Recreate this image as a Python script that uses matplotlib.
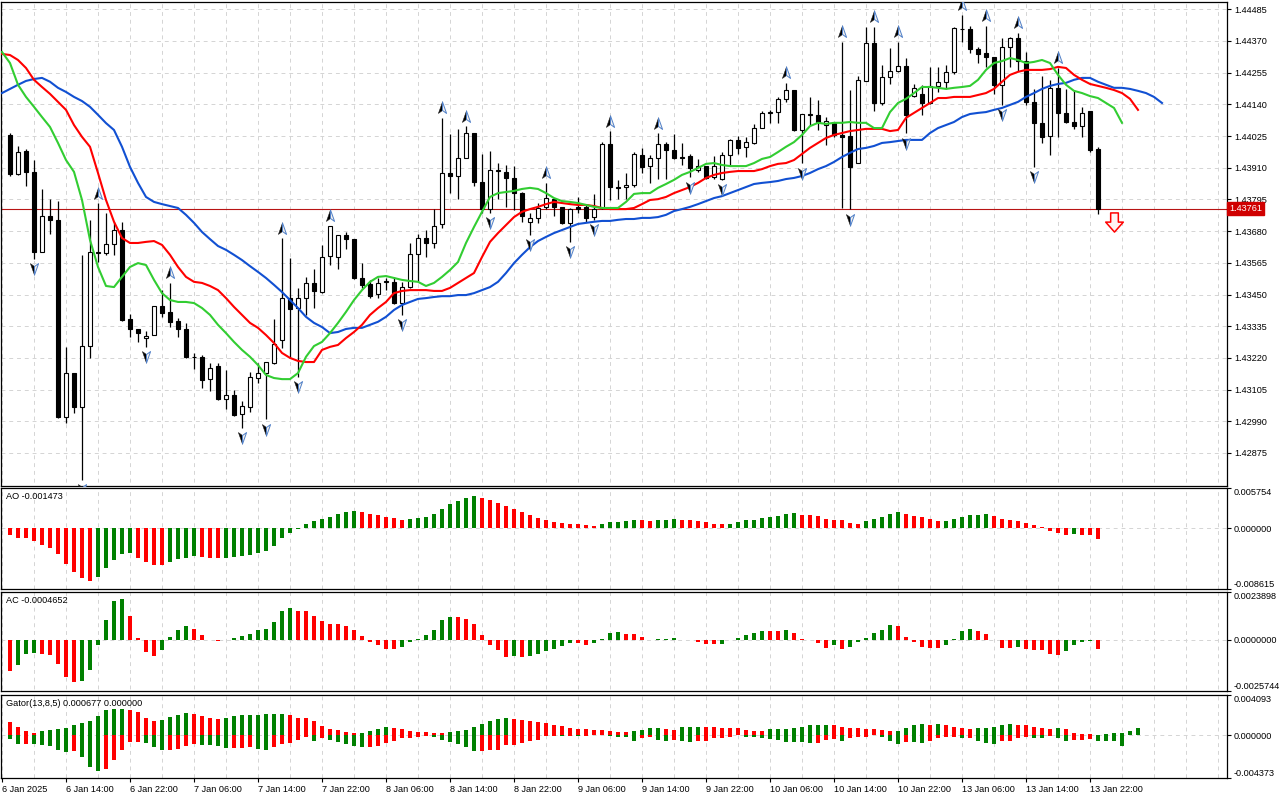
import numpy as np
import matplotlib.pyplot as plt
from matplotlib.path import Path
from matplotlib.transforms import offset_copy, blended_transform_factory

plt.rcParams['font.family'] = ['Liberation Sans', 'DejaVu Sans']

# H1 bars, bar 0 = 6 Jan 07:00, last bar = 13 Jan 23:00
opens = [1.44029, 1.43887, 1.43971, 1.43895, 1.43605, 1.43735, 1.43721, 1.43006, 1.43165, 1.43042,
         1.43263, 1.43601, 1.43601, 1.43633, 1.43684, 1.43361, 1.43325, 1.43292, 1.43303, 1.43408,
         1.43387, 1.43354, 1.43325, 1.43222, 1.43224, 1.43143, 1.43190, 1.43070, 1.43085, 1.43016,
         1.43042, 1.43147, 1.43165, 1.43201, 1.43285, 1.43437, 1.43401, 1.43437, 1.43492, 1.43459,
         1.43590, 1.43587, 1.43666, 1.43651, 1.43510, 1.43488, 1.43451, 1.43496, 1.43496, 1.43419,
         1.43478, 1.43597, 1.43655, 1.43637, 1.43706, 1.43891, 1.43880, 1.43946, 1.44036, 1.43859,
         1.43760, 1.43898, 1.43895, 1.43873, 1.43818, 1.43714, 1.43728, 1.43768, 1.43796, 1.43768,
         1.43710, 1.43768, 1.43768, 1.43731, 1.43764, 1.43996, 1.43840, 1.43840, 1.43847, 1.43957,
         1.43916, 1.43946, 1.43996, 1.43975, 1.43949, 1.43953, 1.43902, 1.43916, 1.43876, 1.43869,
         1.43957, 1.44011, 1.43986, 1.44000, 1.44054, 1.44109, 1.44112, 1.44160, 1.44192, 1.44047,
         1.44102, 1.44102, 1.44065, 1.44073, 1.44029, 1.44025, 1.43927, 1.44225, 1.44363, 1.44145,
         1.44239, 1.44261, 1.44279, 1.44170, 1.44178, 1.44145, 1.44207, 1.44221, 1.44258, 1.44414,
         1.44414, 1.44341, 1.44327, 1.44312, 1.44210, 1.44348, 1.44381, 1.44298, 1.44149, 1.44073,
         1.44025, 1.44200, 1.44109, 1.44076, 1.44062, 1.44116, 1.43978]
highs = [1.44036, 1.43989, 1.43978, 1.43938, 1.43833, 1.43796, 1.43789, 1.43260, 1.43165, 1.43594,
         1.43721, 1.43782, 1.43746, 1.43714, 1.43714, 1.43379, 1.43325, 1.43317, 1.43408, 1.43466,
         1.43492, 1.43365, 1.43347, 1.43238, 1.43231, 1.43201, 1.43201, 1.43176, 1.43103, 1.43063,
         1.43169, 1.43201, 1.43205, 1.43361, 1.43655, 1.43583, 1.43474, 1.43514, 1.43542, 1.43630,
         1.43699, 1.43666, 1.43677, 1.43651, 1.43564, 1.43503, 1.43510, 1.43510, 1.43514, 1.43496,
         1.43637, 1.43669, 1.43684, 1.43760, 1.44091, 1.44032, 1.44050, 1.44061, 1.44036, 1.43960,
         1.43971, 1.43927, 1.43920, 1.43916, 1.43822, 1.43746, 1.43782, 1.43855, 1.43800, 1.43768,
         1.43764, 1.43804, 1.43778, 1.43815, 1.44003, 1.44043, 1.43866, 1.43891, 1.43968, 1.43982,
         1.43957, 1.44036, 1.44003, 1.44032, 1.44000, 1.43960, 1.43942, 1.43916, 1.43953, 1.43968,
         1.44014, 1.44025, 1.44022, 1.44069, 1.44116, 1.44120, 1.44167, 1.44218, 1.44192, 1.44105,
         1.44167, 1.44156, 1.44094, 1.44076, 1.44367, 1.44192, 1.44243, 1.44421, 1.44421, 1.44283,
         1.44345, 1.44367, 1.44308, 1.44214, 1.44210, 1.44276, 1.44276, 1.44283, 1.44421, 1.44465,
         1.44425, 1.44348, 1.44425, 1.44312, 1.44381, 1.44385, 1.44399, 1.44330, 1.44196, 1.44243,
         1.44229, 1.44272, 1.44196, 1.44192, 1.44131, 1.44116, 1.43985]
lows = [1.43880, 1.43884, 1.43844, 1.43579, 1.43605, 1.43669, 1.43002, 1.42984, 1.43020, 1.42777,
        1.43220, 1.43568, 1.43594, 1.43594, 1.43354, 1.43296, 1.43278, 1.43260, 1.43303, 1.43369,
        1.43333, 1.43296, 1.43218, 1.43179, 1.43111, 1.43099, 1.43067, 1.43034, 1.43009, 1.42966,
        1.43024, 1.43129, 1.42998, 1.43197, 1.43256, 1.43220, 1.43151, 1.43376, 1.43401, 1.43455,
        1.43557, 1.43542, 1.43615, 1.43506, 1.43474, 1.43437, 1.43437, 1.43466, 1.43415, 1.43376,
        1.43474, 1.43496, 1.43587, 1.43619, 1.43692, 1.43818, 1.43796, 1.43946, 1.43844, 1.43746,
        1.43746, 1.43796, 1.43768, 1.43757, 1.43714, 1.43666, 1.43710, 1.43760, 1.43735, 1.43706,
        1.43641, 1.43746, 1.43714, 1.43721, 1.43760, 1.43793, 1.43796, 1.43796, 1.43840, 1.43891,
        1.43855, 1.43869, 1.43869, 1.43942, 1.43920, 1.43876, 1.43895, 1.43869, 1.43869, 1.43866,
        1.43920, 1.43960, 1.43949, 1.43996, 1.44054, 1.44073, 1.44073, 1.44149, 1.44043, 1.43927,
        1.44065, 1.44047, 1.43993, 1.44022, 1.43764, 1.43760, 1.43927, 1.44225, 1.44116, 1.44138,
        1.44214, 1.44258, 1.44036, 1.44167, 1.44102, 1.44141, 1.44185, 1.44196, 1.44250, 1.44367,
        1.44327, 1.44290, 1.44276, 1.44178, 1.44138, 1.44276, 1.44261, 1.44138, 1.43913, 1.44000,
        1.43957, 1.44022, 1.44073, 1.44051, 1.44022, 1.43967, 1.43742]
closes = [1.43887, 1.43968, 1.43895, 1.43605, 1.43735, 1.43721, 1.43005, 1.43165, 1.43042, 1.43263,
          1.43605, 1.43605, 1.43633, 1.43684, 1.43358, 1.43325, 1.43310, 1.43299, 1.43408, 1.43383,
          1.43351, 1.43325, 1.43222, 1.43225, 1.43140, 1.43183, 1.43070, 1.43085, 1.43013, 1.43045,
          1.43151, 1.43165, 1.43205, 1.43270, 1.43437, 1.43397, 1.43437, 1.43492, 1.43462, 1.43587,
          1.43699, 1.43666, 1.43651, 1.43510, 1.43485, 1.43444, 1.43492, 1.43499, 1.43419, 1.43478,
          1.43597, 1.43655, 1.43637, 1.43699, 1.43891, 1.43880, 1.43946, 1.44036, 1.43859, 1.43760,
          1.43902, 1.43902, 1.43873, 1.43818, 1.43735, 1.43728, 1.43764, 1.43800, 1.43768, 1.43710,
          1.43760, 1.43760, 1.43728, 1.43760, 1.43996, 1.43840, 1.43837, 1.43847, 1.43960, 1.43913,
          1.43946, 1.43996, 1.43975, 1.43946, 1.43946, 1.43909, 1.43916, 1.43873, 1.43916, 1.43957,
          1.44011, 1.43982, 1.44003, 1.44054, 1.44109, 1.44112, 1.44160, 1.44192, 1.44047, 1.44105,
          1.44105, 1.44076, 1.44080, 1.44029, 1.44022, 1.43913, 1.44229, 1.44363, 1.44145, 1.44239,
          1.44261, 1.44279, 1.44102, 1.44200, 1.44145, 1.44207, 1.44221, 1.44258, 1.44417, 1.44412,
          1.44341, 1.44323, 1.44312, 1.44210, 1.44348, 1.44381, 1.44298, 1.44149, 1.44073, 1.44022,
          1.44200, 1.44109, 1.44076, 1.44062, 1.44109, 1.43975, 1.43761]

# Alligator lines, first value belongs to bar -1 (jaw +8, teeth +5, lips +3 bars ahead)
jaw = [1.44181, 1.44196, 1.44211, 1.44225, 1.44232, 1.44236, 1.44222, 1.44200, 1.44185, 1.44167,
       1.44152, 1.44131, 1.44102, 1.44072, 1.44047, 1.43986, 1.43913, 1.43855, 1.43804, 1.43786,
       1.43778, 1.43771, 1.43764, 1.43739, 1.43710, 1.43677, 1.43651, 1.43626, 1.43612, 1.43594,
       1.43575, 1.43553, 1.43532, 1.43510, 1.43485, 1.43459, 1.43430, 1.43401, 1.43369, 1.43347,
       1.43332, 1.43310, 1.43314, 1.43325, 1.43329, 1.43329, 1.43340, 1.43351, 1.43369, 1.43394,
       1.43412, 1.43423, 1.43434, 1.43437, 1.43441, 1.43444, 1.43444, 1.43448, 1.43448, 1.43455,
       1.43466, 1.43477, 1.43496, 1.43528, 1.43564, 1.43594, 1.43622, 1.43644, 1.43659, 1.43673,
       1.43684, 1.43695, 1.43706, 1.43710, 1.43714, 1.43717, 1.43717, 1.43721, 1.43724, 1.43724,
       1.43728, 1.43728, 1.43731, 1.43739, 1.43753, 1.43760, 1.43768, 1.43778, 1.43789, 1.43800,
       1.43807, 1.43818, 1.43829, 1.43840, 1.43851, 1.43855, 1.43858, 1.43862, 1.43869, 1.43873,
       1.43880, 1.43891, 1.43905, 1.43916, 1.43931, 1.43949, 1.43964, 1.43978, 1.43982, 1.43989,
       1.44000, 1.44003, 1.44007, 1.44011, 1.44011, 1.44011, 1.44036, 1.44054, 1.44065, 1.44076,
       1.44094, 1.44105, 1.44109, 1.44112, 1.44120, 1.44127, 1.44138, 1.44149, 1.44167, 1.44181,
       1.44196, 1.44207, 1.44214, 1.44218, 1.44229, 1.44236, 1.44236, 1.44222, 1.44211, 1.44200,
       1.44200, 1.44196, 1.44189, 1.44181, 1.44167, 1.44145]
teeth = [1.44323, 1.44319, 1.44301, 1.44272, 1.44229, 1.44203, 1.44178, 1.44149, 1.44120, 1.44065,
         1.44022, 1.43986, 1.43891, 1.43793, 1.43714, 1.43655, 1.43637, 1.43637, 1.43641, 1.43644,
         1.43630, 1.43594, 1.43550, 1.43514, 1.43496, 1.43492, 1.43481, 1.43466, 1.43437, 1.43405,
         1.43376, 1.43347, 1.43329, 1.43303, 1.43274, 1.43238, 1.43220, 1.43209, 1.43205, 1.43205,
         1.43249, 1.43260, 1.43267, 1.43292, 1.43314, 1.43340, 1.43376, 1.43401, 1.43423, 1.43455,
         1.43463, 1.43466, 1.43466, 1.43466, 1.43463, 1.43463, 1.43474, 1.43492, 1.43510, 1.43528,
         1.43586, 1.43641, 1.43673, 1.43702, 1.43731, 1.43750, 1.43760, 1.43768, 1.43778, 1.43786,
         1.43782, 1.43778, 1.43775, 1.43775, 1.43771, 1.43764, 1.43760, 1.43760, 1.43760, 1.43764,
         1.43778, 1.43793, 1.43796, 1.43804, 1.43818, 1.43829, 1.43840, 1.43855, 1.43873, 1.43884,
         1.43891, 1.43895, 1.43898, 1.43898, 1.43898, 1.43905, 1.43916, 1.43924, 1.43927, 1.43938,
         1.43960, 1.43982, 1.44000, 1.44018, 1.44029, 1.44036, 1.44043, 1.44047, 1.44051, 1.44051,
         1.44051, 1.44043, 1.44047, 1.44091, 1.44109, 1.44127, 1.44145, 1.44163, 1.44163, 1.44167,
         1.44167, 1.44167, 1.44174, 1.44181, 1.44196, 1.44222, 1.44247, 1.44258, 1.44265, 1.44265,
         1.44265, 1.44268, 1.44276, 1.44272, 1.44247, 1.44229, 1.44214, 1.44207, 1.44200, 1.44192,
         1.44181, 1.44160, 1.44120]
lips = [1.44330, 1.44290, 1.44211, 1.44167, 1.44131, 1.44094, 1.44058, 1.44000, 1.43938, 1.43895,
        1.43793, 1.43648, 1.43550, 1.43481, 1.43477, 1.43514, 1.43550, 1.43564, 1.43557, 1.43503,
        1.43455, 1.43430, 1.43423, 1.43423, 1.43419, 1.43401, 1.43376, 1.43340, 1.43310, 1.43278,
        1.43249, 1.43224, 1.43194, 1.43158, 1.43147, 1.43143, 1.43143, 1.43165, 1.43224, 1.43263,
        1.43278, 1.43310, 1.43347, 1.43387, 1.43430, 1.43466, 1.43496, 1.43514, 1.43517, 1.43510,
        1.43503, 1.43499, 1.43496, 1.43481, 1.43492, 1.43514, 1.43539, 1.43568, 1.43637, 1.43695,
        1.43750, 1.43804, 1.43818, 1.43822, 1.43826, 1.43833, 1.43837, 1.43833, 1.43818, 1.43800,
        1.43789, 1.43786, 1.43782, 1.43775, 1.43768, 1.43764, 1.43764, 1.43764, 1.43786, 1.43815,
        1.43818, 1.43818, 1.43837, 1.43851, 1.43866, 1.43884, 1.43895, 1.43909, 1.43924, 1.43927,
        1.43920, 1.43916, 1.43916, 1.43916, 1.43927, 1.43942, 1.43949, 1.43967, 1.43986, 1.44003,
        1.44029, 1.44061, 1.44073, 1.44069, 1.44073, 1.44073, 1.44076, 1.44073, 1.44073, 1.44054,
        1.44054, 1.44112, 1.44145, 1.44160, 1.44181, 1.44203, 1.44203, 1.44200, 1.44196, 1.44200,
        1.44203, 1.44207, 1.44229, 1.44265, 1.44290, 1.44297, 1.44308, 1.44301, 1.44290, 1.44294,
        1.44301, 1.44290, 1.44247, 1.44211, 1.44189, 1.44181, 1.44170, 1.44163, 1.44145, 1.44127,
        1.44073]

fractal_up = [11, 20, 34, 40, 54, 57, 67, 75, 81, 97, 104, 108, 111, 119, 122, 126, 131]
fractal_dn = [3, 9, 17, 29, 32, 36, 49, 60, 65, 70, 73, 85, 89, 99, 105, 112, 124, 128]
sell_signal_bar = 138

ao = [-0.00095, -0.00133, -0.00142, -0.00175, -0.00237, -0.00275, -0.00365, -0.00507, -0.00616, -0.00702,
      -0.00744, -0.00687, -0.00559, -0.00446, -0.00365, -0.00356, -0.00417, -0.00474, -0.00521, -0.00523,
      -0.00474, -0.00436, -0.00417, -0.00393, -0.00403, -0.00417, -0.00418, -0.00415, -0.00403, -0.00393,
      -0.00379, -0.00346, -0.00322, -0.00251, -0.00142, -0.00062, -0.00014, 0.00057, 0.00104, 0.00133,
      0.00161, 0.00204, 0.00232, 0.00246, 0.00232, 0.00199, 0.00190, 0.00161, 0.00142, 0.00123,
      0.00137, 0.00147, 0.00161, 0.00204, 0.00275, 0.00346, 0.00389, 0.00431, 0.00460, 0.00431,
      0.00403, 0.00360, 0.00318, 0.00275, 0.00237, 0.00190, 0.00147, 0.00119, 0.00090, 0.00076,
      0.00062, 0.00060, 0.00047, 0.00033, 0.00062, 0.00090, 0.00095, 0.00104, 0.00119, 0.00117,
      0.00104, 0.00114, 0.00118, 0.00133, 0.00119, 0.00116, 0.00104, 0.00090, 0.00062, 0.00057,
      0.00066, 0.00090, 0.00117, 0.00120, 0.00147, 0.00161, 0.00175, 0.00204, 0.00218, 0.00190,
      0.00188, 0.00175, 0.00133, 0.00119, 0.00117, 0.00076, 0.00062, 0.00104, 0.00133, 0.00161,
      0.00204, 0.00232, 0.00204, 0.00175, 0.00161, 0.00133, 0.00104, 0.00107, 0.00133, 0.00161,
      0.00190, 0.00192, 0.00204, 0.00175, 0.00133, 0.00119, 0.00104, 0.00076, 0.00047, 0.00014,
      -0.00033, -0.00062, -0.00095, -0.00081, -0.00095, -0.00097, -0.001473]
ac = [-0.00159, -0.00129, -0.00074, -0.00065, -0.00074, -0.00075, -0.00124, -0.00187, -0.00214, -0.00209,
      -0.00154, -0.00028, 0.00100, 0.00192, 0.00202, 0.00120, 0.00010, -0.00063, -0.00084, -0.00053,
      0.00012, 0.00050, 0.00070, 0.00055, 0.00025, -0.00003, -0.00007, -0.00001, 0.00010, 0.00017,
      0.00030, 0.00047, 0.00052, 0.00087, 0.00142, 0.00160, 0.00145, 0.00144, 0.00120, 0.00092,
      0.00080, 0.00079, 0.00067, 0.00050, 0.00020, -0.00012, -0.00028, -0.00045, -0.00046, -0.00037,
      -0.00012, 0.00003, 0.00025, 0.00050, 0.00100, 0.00115, 0.00114, 0.00105, 0.00080, 0.00025,
      -0.00025, -0.00050, -0.00087, -0.00082, -0.00085, -0.00083, -0.00070, -0.00058, -0.00045, -0.00033,
      -0.00017, -0.00018, -0.00025, -0.00017, 0.00003, 0.00035, 0.00036, 0.00030, 0.00029, 0.00013,
      -0.00001, 0.00003, 0.00004, 0.00008, 0.00000, -0.00003, -0.00012, -0.00023, -0.00024, -0.00022,
      -0.00003, 0.00008, 0.00025, 0.00035, 0.00045, 0.00044, 0.00043, 0.00050, 0.00035, 0.00005,
      -0.00003, -0.00017, -0.00040, -0.00028, -0.00045, -0.00037, -0.00010, 0.00010, 0.00035, 0.00050,
      0.00075, 0.00070, 0.00015, -0.00013, -0.00037, -0.00043, -0.00044, -0.00025, 0.00003, 0.00042,
      0.00052, 0.00042, 0.00030, -0.00001, -0.00040, -0.00041, -0.00039, -0.00045, -0.00053, -0.00054,
      -0.00074, -0.00075, -0.00058, -0.00025, -0.00013, -0.00005, -0.0004652]
gator_up = [0.00130, 0.00086, 0.00038, 0.00017, 0.00038, 0.00048, 0.00058, 0.00069, 0.00099, 0.00120,
            0.00141, 0.00192, 0.00261, 0.00264, 0.00268, 0.00261, 0.00233, 0.00172, 0.00141, 0.00151,
            0.00182, 0.00206, 0.00223, 0.00213, 0.00196, 0.00172, 0.00168, 0.00175, 0.00196, 0.00202,
            0.00206, 0.00209, 0.00213, 0.00216, 0.00220, 0.00202, 0.00178, 0.00172, 0.00141, 0.00089,
            0.00058, 0.00048, 0.00027, 0.00017, 0.00021, 0.00038, 0.00058, 0.00079, 0.00075, 0.00058,
            0.00038, 0.00034, 0.00027, 0.00024, 0.00017, 0.00027, 0.00038, 0.00048, 0.00079, 0.00110,
            0.00141, 0.00161, 0.00172, 0.00168, 0.00151, 0.00141, 0.00130, 0.00120, 0.00099, 0.00089,
            0.00069, 0.00065, 0.00058, 0.00057, 0.00056, 0.00038, 0.00037, 0.00036, 0.00041, 0.00048,
            0.00069, 0.00072, 0.00058, 0.00055, 0.00079, 0.00082, 0.00086, 0.00082, 0.00079, 0.00075,
            0.00072, 0.00069, 0.00048, 0.00045, 0.00041, 0.00058, 0.00062, 0.00065, 0.00069, 0.00079,
            0.00099, 0.00103, 0.00106, 0.00103, 0.00079, 0.00075, 0.00069, 0.00065, 0.00058, 0.00048,
            0.00038, 0.00041, 0.00069, 0.00099, 0.00110, 0.00099, 0.00110, 0.00099, 0.00079, 0.00069,
            0.00065, 0.00072, 0.00075, 0.00079, 0.00099, 0.00110, 0.00106, 0.00099, 0.00079, 0.00069,
            0.00065, 0.00070, 0.00058, 0.00017, 0.00010, 0.00007, 0.00004, 0.00014, 0.00017, 0.00021,
            0.00038, 0.000677]
gator_dn = [-0.00040, -0.00089, -0.00086, -0.00093, -0.00103, -0.00113, -0.00147, -0.00175, -0.00165, -0.00226,
            -0.00329, -0.00370, -0.00343, -0.00250, -0.00147, -0.00069, -0.00065, -0.00082, -0.00123, -0.00154,
            -0.00151, -0.00137, -0.00106, -0.00089, -0.00096, -0.00103, -0.00113, -0.00134, -0.00130, -0.00127,
            -0.00123, -0.00141, -0.00147, -0.00123, -0.00086, -0.00082, -0.00045, -0.00017, -0.00055, -0.00034,
            -0.00045, -0.00072, -0.00086, -0.00113, -0.00123, -0.00120, -0.00113, -0.00079, -0.00055, -0.00034,
            -0.00027, -0.00021, -0.00007, -0.00021, -0.00045, -0.00065, -0.00086, -0.00123, -0.00165, -0.00158,
            -0.00154, -0.00151, -0.00103, -0.00096, -0.00079, -0.00062, -0.00045, -0.00010, -0.00007, -0.00010,
            -0.00007, -0.00010, -0.00007, -0.00003, -0.00002, -0.00010, -0.00014, -0.00021, -0.00055, -0.00034,
            -0.00021, -0.00045, -0.00055, -0.00051, -0.00058, -0.00065, -0.00062, -0.00055, -0.00034, -0.00027,
            -0.00014, -0.00003, -0.00021, -0.00024, -0.00034, -0.00038, -0.00045, -0.00065, -0.00072, -0.00075,
            -0.00082, -0.00079, -0.00045, -0.00041, -0.00055, -0.00034, -0.00021, -0.00017, -0.00003, -0.00014,
            -0.00062, -0.00093, -0.00072, -0.00075, -0.00082, -0.00062, -0.00034, -0.00021, -0.00017, -0.00034,
            -0.00031, -0.00055, -0.00082, -0.00086, -0.00062, -0.00058, -0.00034, -0.00021, -0.00031, -0.00034,
            -0.00010, -0.00034, -0.00055, -0.00051, -0.00045, -0.00041, -0.00055, -0.00058, -0.00062, -0.00106]

date_pos = [-1, 7, 15, 23, 31, 39, 47, 55, 63, 71, 79, 87, 95, 103, 111, 119, 127, 135]
date_labels = ['6 Jan 2025', '6 Jan 14:00', '6 Jan 22:00', '7 Jan 06:00', '7 Jan 14:00',
               '7 Jan 22:00', '8 Jan 06:00', '8 Jan 14:00', '8 Jan 22:00', '9 Jan 06:00',
               '9 Jan 14:00', '9 Jan 22:00', '10 Jan 06:00', '10 Jan 14:00', '10 Jan 22:00',
               '13 Jan 06:00', '13 Jan 14:00', '13 Jan 22:00']
price_ticks = [1.42875, 1.42990, 1.43105, 1.43220, 1.43335, 1.43450, 1.43565, 1.43680,
               1.43795, 1.43910, 1.44025, 1.44140, 1.44255, 1.44370, 1.44485]

GREEN = '#008000'
RED = '#ff0000'
GRID = '#d4d4d4'
FS = 6.6
W, H = 1280, 800
XLIM = (-1.125, 152.125)

fig = plt.figure(figsize=(12.8, 8), dpi=100)


def panel(top, bottom):
    a = fig.add_axes([1 / W, 1 - bottom / H, 1226 / W, (bottom - top) / H])
    a.set_xlim(*XLIM)
    for s in a.spines.values():
        s.set_linewidth(0.9)
        s.set_color('black')
    a.yaxis.tick_right()
    a.tick_params(axis='y', direction='out', length=3, width=0.8, pad=2, labelsize=FS)
    a.tick_params(axis='x', bottom=False, labelbottom=False)
    a.vlines(np.arange(-1, 153, 4), -1, 2, transform=blended_transform_factory(a.transData, a.transAxes),
             colors=GRID, linestyles=(0, (4, 4)), linewidth=0.7, zorder=0)
    return a


def up_down_colors(vals, first):
    cols = [first]
    for a, b in zip(vals[:-1], vals[1:]):
        cols.append(GREEN if b > a else RED)
    return cols


# ---- main price panel
ax = panel(2, 486)
ax.set_ylim(1.427552, 1.445114)
ax.set_yticks(price_ticks)
ax.set_yticklabels([f'{p:.5f}' for p in price_ticks])
for p in price_ticks:
    ax.axhline(p, color=GRID, ls=(0, (4, 4)), lw=0.7, zorder=0)

idx = np.arange(len(opens))
o = np.array(opens)
c = np.array(closes)
bull = c >= o
ax.vlines(idx, lows, highs, color='black', lw=0.9, zorder=2)
ax.bar(idx, np.maximum(np.abs(c - o), 0.000004), bottom=np.minimum(o, c), width=0.56,
       color=np.where(bull, 'white', 'black'), edgecolor='black', linewidth=0.8, zorder=3)

ax.plot(np.arange(-1, len(jaw) - 1), jaw, color='#1150d2', lw=1.5, zorder=4)
ax.plot(np.arange(-1, len(teeth) - 1), teeth, color='#ff0000', lw=1.5, zorder=4)
ax.plot(np.arange(-1, len(lips) - 1), lips, color='#32cd32', lw=1.5, zorder=4)

ax.axhline(closes[-1], color='#b81414', lw=0.8, zorder=1)

# fractal arrows: dark left half, light right half
tri = [Path.MOVETO, Path.LINETO, Path.LINETO, Path.CLOSEPOLY]
up_left = Path([(0, 1), (0, -0.3), (-0.62, -0.75), (0, 1)], tri)
up_right = Path([(0, 1), (0.62, -0.75), (0, -0.3), (0, 1)], tri)
dn_left = Path([(0, -1), (0, 0.3), (-0.62, 0.75), (0, -1)], tri)
dn_right = Path([(0, -1), (0.62, 0.75), (0, 0.3), (0, -1)], tri)
tr_up = offset_copy(ax.transData, fig=fig, x=0, y=9.5, units='dots')
tr_dn = offset_copy(ax.transData, fig=fig, x=0, y=-9.5, units='dots')
yu = [highs[i] for i in fractal_up]
yd = [lows[i] for i in fractal_dn]
for mk, xs, ys, tr in [(up_left, fractal_up, yu, tr_up), (dn_left, fractal_dn, yd, tr_dn)]:
    ax.scatter(xs, ys, marker=mk, s=90, c='black', edgecolors='#222222', linewidths=0.4,
               transform=tr, zorder=5)
for mk, xs, ys, tr in [(up_right, fractal_up, yu, tr_up), (dn_right, fractal_dn, yd, tr_dn)]:
    ax.scatter(xs, ys, marker=mk, s=90, c='#f4f0ea', edgecolors='#4f7fc8', linewidths=0.7,
               transform=tr, zorder=5)

arrow_path = Path([(-0.2, 0.5), (0.2, 0.5), (0.2, 0.02), (0.46, 0.02), (0, -0.5),
                   (-0.46, 0.02), (-0.2, 0.02), (-0.2, 0.5)],
                  [Path.MOVETO] + [Path.LINETO] * 6 + [Path.CLOSEPOLY])
ax.scatter([sell_signal_bar], [closes[-1]], marker=arrow_path, s=190, c='#fff4f4', edgecolors='#ff0000',
           linewidths=1.1, transform=offset_copy(ax.transData, fig=fig, x=0, y=-13, units='dots'), zorder=5)

ax.text(1.0018, closes[-1], f'{closes[-1]:.5f}', transform=blended_transform_factory(ax.transAxes, ax.transData),
        ha='left', va='center', color='white', fontsize=FS, zorder=6, clip_on=False,
        bbox=dict(boxstyle='square,pad=0.2', fc='#d00000', ec='#d00000'))

# ---- AO
ax_ao = panel(488, 589)
ax_ao.set_ylim(-0.008615, 0.005754)
ax_ao.axhline(0, color=GRID, ls=(0, (4, 4)), lw=0.7, zorder=0)
ax_ao.bar(np.arange(len(ao)), ao, width=0.48, color=up_down_colors(ao, RED), zorder=2)

# ---- AC
ax_ac = panel(592, 691)
ax_ac.set_ylim(-0.0025744, 0.0023898)
ax_ac.axhline(0, color=GRID, ls=(0, (4, 4)), lw=0.7, zorder=0)
ax_ac.bar(np.arange(len(ac)), ac, width=0.48, color=up_down_colors(ac, RED), zorder=2)

# ---- Gator
ax_gt = panel(695, 778)
ax_gt.set_ylim(-0.004373, 0.004093)
ax_gt.axhline(0, color=GRID, ls=(0, (4, 4)), lw=0.7, zorder=0)
ax_gt.bar(np.arange(len(gator_up)), gator_up, width=0.48, color=up_down_colors(gator_up, RED), zorder=2)
dn_abs = [abs(v) for v in gator_dn]
ax_gt.bar(np.arange(len(gator_dn)), gator_dn, width=0.48, color=up_down_colors(dn_abs, GREEN), zorder=2)

for a, ticks, fmt in [(ax_ao, [-0.008615, 0.0, 0.005754], '{:.6f}'),
                      (ax_ac, [-0.0025744, 0.0, 0.0023898], '{:.7f}'),
                      (ax_gt, [-0.004373, 0.0, 0.004093], '{:.6f}')]:
    a.set_yticks(ticks)
    labs = a.set_yticklabels([fmt.format(t) for t in ticks])
    labs[0].set_va('bottom')
    labs[2].set_va('top')

titles = [(ax_ao, f'AO {ao[-1]:.6f}'), (ax_ac, f'AC {ac[-1]:.7f}'),
          (ax_gt, f'Gator(13,8,5) {gator_up[-1]:.6f} {0:.6f}')]
for a, t in titles:
    a.text(0, 1, t, transform=offset_copy(a.transAxes, fig=fig, x=5, y=-8.5, units='dots'),
           ha='left', va='center', fontsize=FS, color='black')

ax_gt.set_xticks(date_pos)
ax_gt.set_xticklabels(date_labels, ha='left')
ax_gt.tick_params(axis='x', bottom=True, labelbottom=True, direction='out', length=3, width=0.8,
                  pad=2, labelsize=FS)

fig.savefig('out.png', dpi=100, facecolor='white')
